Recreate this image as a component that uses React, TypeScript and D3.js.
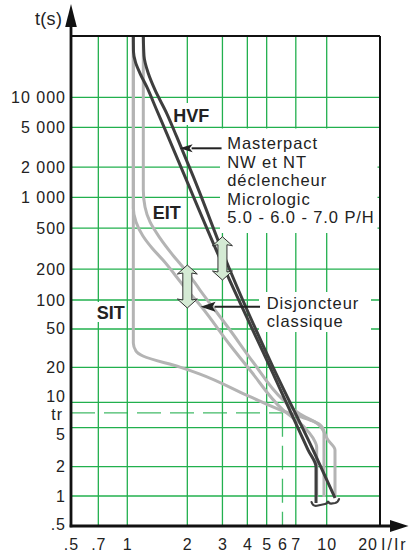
import React from "react";
import * as d3 from "d3";

const W = 409;
const H = 553;

// scale breakpoints (log, polylinear to follow the printed grid)
const xBreaks = [0.5, 1, 10, 20];
const yBreaks = [0.5, 1, 5, 10, 20, 100, 1000, 10000, 40000];

const xTickValues = [0.5, 0.7, 1, 2, 3, 4, 5, 6, 7, 10];
const xTickLabels = [".5", ".7", "1", "2", "3", "4", "5", "6", "7", "10"];
const xGridValues = [0.7, 1, 2, 3, 4, 5, 7, 10];

const yTickValues = [0.5, 1, 2, 5, 10, 20, 50, 100, 200, 500, 1000, 2000, 5000, 10000];
const yTickLabels = [".5", "1", "2", "5", "10", "20", "50", "100", "200", "500", "1 000", "2 000", "5 000", "10 000"];
const yGridValues = [1, 2, 5, 10, 20, 50, 100, 200, 500, 1000, 2000, 5000, 10000];

const TR = 7.5;
const TR_MULT = 6;

// curves [I/Ir, t(s)]
const hvfLow: [number, number][] = [
  [1.072, 40000], [1.074, 28000], [1.1, 22000], [1.158, 17210], [1.251, 12700],
  [1.404, 7464], [1.576, 4365], [1.947, 1607], [3.09, 196], [5.2, 20.1],
  [8.06, 2.96], [8.84, 1.98], [8.84, 0.85],
];
const hvfHigh: [number, number][] = [
  [1.203, 40000], [1.213, 25450], [1.274, 17210], [1.377, 11800], [1.576, 6918],
  [1.769, 4036], [2.143, 1607], [3.27, 196], [5.38, 20.1], [8.54, 2.96], [11.14, 0.955],
];
const sit: [number, number][] = [
  [1.072, 40000], [1.072, 35.7], [1.106, 29.5], [1.198, 26.2], [1.838, 20.1],
  [2.315, 17.5], [4.124, 11.17], [6.036, 7.89], [8.25, 6.17], [9.15, 5.53],
  [9.69, 4.52], [9.69, 0.977],
];
const eitHigh: [number, number][] = [
  [1.203, 40000], [1.203, 1183], [1.227, 804], [1.3, 575], [1.459, 401],
  [1.676, 280], [1.993, 187], [2.315, 125], [3.273, 48.8], [4.27, 22.7],
  [6.04, 10.5], [7.35, 7.27], [9.04, 5.53], [10.17, 3.74], [11.14, 2.96], [11.14, 0.977],
];
const eitLow: [number, number][] = [
  [1.072, 40000], [1.072, 787], [1.106, 575], [1.198, 420], [1.33, 321],
  [1.51, 245], [1.993, 125], [2.315, 88.7], [3.273, 34.1], [4.124, 18.96],
  [6.04, 8.11], [7.79, 4.97], [8.54, 3.92], [8.91, 3.17], [8.91, 0.977],
];

// double arrows: [I, tTop, tBottom]
const bandArrows: [number, number, number][] = [
  [2, 219, 82.6],
  [3, 413, 156.6],
];

const FONT = "'Liberation Sans', Arial, Helvetica, sans-serif";
const GREEN = "#22b04e";
const GRAY = "#b4b4b4";
const DARK = "#3e3e3e";

export default function App() {
  const left = 71, right = 380, top = 36, bottom = 526;
  const x = d3.scaleLog().domain(xBreaks).range([left, 127.3, 326.7, right]);
  const y = d3.scaleLog().domain(yBreaks).range([bottom, 496, 427.7, 402.3, 367.3, 300, 197.3, 97.3, top]);

  const line = d3
    .line<[number, number]>()
    .x((d) => x(d[0]))
    .y((d) => y(d[1]))
    .curve(d3.curveMonotoneY);

  const xTr = x(TR_MULT);
  const yTr = y(TR);

  const dbl = (cx: number, yt: number, yb: number) => {
    const hw = 10, sw = 4.5, hl = 9;
    const p = [
      [cx, yt], [cx + hw, yt + hl], [cx + sw, yt + hl - 1], [cx + sw, yb - hl + 1], [cx + hw, yb - hl],
      [cx, yb], [cx - hw, yb - hl], [cx - sw, yb - hl + 1], [cx - sw, yt + hl - 1], [cx - hw, yt + hl],
    ];
    return p.map((q) => q.join(",")).join(" ");
  };

  const arrow = (x1: number, x2: number, yy: number, hl: number, hh: number) => (
    <g>
      <line x1={x1} x2={x2 + hl - 1} y1={yy} y2={yy} stroke="#222" strokeWidth={2} />
      <polygon points={`${x2},${yy} ${x2 + hl},${yy - hh} ${x2 + hl - 3},${yy} ${x2 + hl},${yy + hh}`} fill="#222" />
    </g>
  );

  const bx = x(8.84);
  const by = y(0.85);
  const bracket = `M${bx - 4.5},${by - 1} Q${bx - 3},${by + 4} ${bx + 2},${by + 2.5} L${bx + 9},${by + 1} Q${bx + 11.5},${by + 0.5} ${bx + 12},${by - 2} Q${bx + 12.5},${by + 0.5} ${bx + 15},${by + 0.5} L${bx + 19},${by} Q${bx + 22},${by - 0.5} ${bx + 23},${by - 4}`;

  return (
    <svg width={W} height={H} style={{ position: "absolute", left: 0, top: 0, background: "#fff" }} fontFamily={FONT}>
      <rect x={0} y={0} width={W} height={H} fill="#fff" />
      {/* grid */}
      {yGridValues.map((v) => (
        <line key={"h" + v} x1={left} x2={right} y1={y(v)} y2={y(v)} stroke={GREEN} strokeWidth={1.3} />
      ))}
      {xGridValues.map((v) => (
        <line key={"v" + v} x1={x(v)} x2={x(v)} y1={top} y2={bottom} stroke={GREEN} strokeWidth={1.3} />
      ))}
      <line x1={left} x2={xTr} y1={yTr} y2={yTr} stroke={GREEN} strokeWidth={1.3} strokeDasharray="24 9" opacity={0.85} />
      <line x1={xTr} x2={xTr} y1={yTr} y2={bottom} stroke={GREEN} strokeWidth={1.3} strokeDasharray="24 9" opacity={0.85} />

      {/* white label backgrounds */}
      <rect x={220} y={128.5} width={157.5} height={104.5} fill="#fff" />
      <rect x={259} y={292} width={112} height={40} fill="#fff" />
      <rect x={171} y={103} width={41} height={22} fill="#fff" />
      <rect x={94} y={302} width={32} height={20} fill="#fff" />

      {/* curves */}
      {[sit, eitLow, eitHigh].map((c, i) => (
        <path key={"g" + i} d={line(c) || ""} fill="none" stroke={GRAY} strokeWidth={3} strokeLinejoin="round" />
      ))}
      {[hvfLow, hvfHigh].map((c, i) => (
        <path key={"d" + i} d={line(c) || ""} fill="none" stroke={DARK} strokeWidth={3} strokeLinejoin="round" />
      ))}
      <path d={bracket} fill="none" stroke={DARK} strokeWidth={2.2} strokeLinecap="round" />

      {/* band arrows */}
      {bandArrows.map(([i, t1, t2]) => (
        <polygon key={"ba" + i} points={dbl(x(i), y(t1), y(t2))} fill="#d4ead4" stroke="#333" strokeWidth={1} />
      ))}

      {/* annotation arrows */}
      {arrow(x(2.97), x(1.83), y(3090), 13, 4)}
      {arrow(x(4.63), x(2.33), y(85.2), 15, 5)}

      {/* labels */}
      <g fontWeight="bold" fontSize={18} fill="#222">
        <text x={173.3} y={121.5}>HVF</text>
        <text x={152.7} y={219}>EIT</text>
        <text x={96.7} y={319}>SIT</text>
      </g>
      <g fontSize={16.5} letterSpacing={0.9} fill="#222">
        <text x={227.3} y={149}>Masterpact</text>
        <text x={227.3} y={167.5}>NW et NT</text>
        <text x={227.3} y={186}>déclencheur</text>
        <text x={227.3} y={204.5}>Micrologic</text>
        <text x={227.3} y={223}>5.0 - 6.0 - 7.0 P/H</text>
        <text x={266.7} y={308.8}>Disjoncteur</text>
        <text x={266.7} y={327.3}>classique</text>
      </g>

      {/* borders and axes */}
      <line x1={left} x2={right} y1={top} y2={top} stroke="#111" strokeWidth={2} />
      <line x1={right} x2={right} y1={top} y2={bottom} stroke="#111" strokeWidth={2} />
      <line x1={left} x2={left} y1={bottom + 1.3} y2={20} stroke="#111" strokeWidth={2.8} />
      <polygon points={`${left},4 ${left + 5.8},27 ${left - 5.8},27`} fill="#111" />
      <line x1={left - 1.3} x2={395} y1={bottom} y2={bottom} stroke="#111" strokeWidth={2.8} />
      <polygon points={`408.5,${bottom} 390,${bottom - 6} 390,${bottom + 6}`} fill="#111" />

      {/* tick labels */}
      <g fontSize={16} letterSpacing={1} fill="#222">
        {yTickValues.map((v, i) => {
          let dy = 5.5;
          if (v === 10) dy = -0.3;
          if (v === 5) dy = 12;
          if (v === 0.5) dy = 4;
          return (
            <text key={"yl" + v} x={66} y={y(v) + dy} textAnchor="end">
              {yTickLabels[i]}
            </text>
          );
        })}
        <text x={63} y={yTr + 7.5} textAnchor="end">tr</text>
        {xTickValues.map((v, i) => (
          <text key={"xl" + v} x={x(v) + 0.5} y={549.5} textAnchor="middle">
            {xTickLabels[i]}
          </text>
        ))}
        <text x={x(20) - 2} y={549.5} textAnchor="end">20</text>
        <text x={x(20) + 1} y={549.5} letterSpacing={2}>I/Ir</text>
        <text x={35} y={24.5} fontSize={18} letterSpacing={0.3}>t(s)</text>
      </g>
    </svg>
  );
}
